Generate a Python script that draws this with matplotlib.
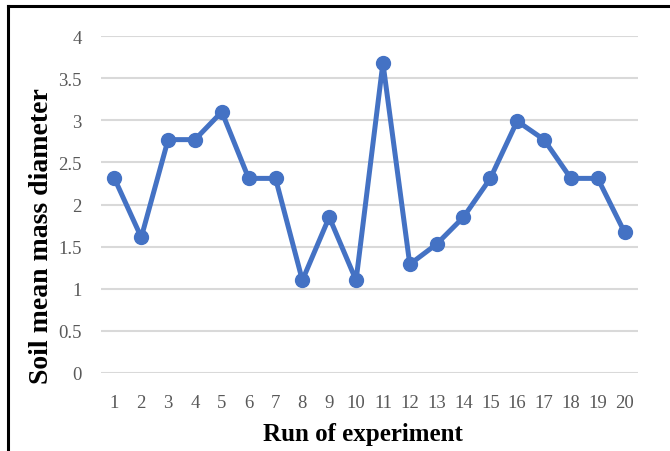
import numpy as np
import matplotlib
matplotlib.use('Agg')
import matplotlib.pyplot as plt
from matplotlib.lines import Line2D

# data
runs = list(range(1, 21))
mmd = [2.31, 1.61, 2.77, 2.77, 3.10, 2.31, 2.31, 1.10, 1.85, 1.10,
       3.68, 1.29, 1.53, 1.85, 2.31, 2.99, 2.77, 2.31, 2.31, 1.67]
y_ticks = [0, 0.5, 1, 1.5, 2, 2.5, 3, 3.5, 4]
y_tick_labels = ['0', '0.5', '1', '1.5', '2', '2.5', '3', '3.5', '4']

W, H = 670, 452
fig = plt.figure(figsize=(W / 100, H / 100), dpi=100)
ax = fig.add_axes([101 / W, 1 - 374 / H, 537 / W, 337 / H])

ax.plot(runs, mmd, color='#4472C4', lw=3.6, marker='o', ms=10,
        solid_joinstyle='round', clip_on=False, zorder=3)

ax.set_xlim(0.5, 20.5)
ax.set_ylim(0, 4)
ax.set_yticks(y_ticks)
ax.set_yticklabels(y_tick_labels)
ax.set_xticks(runs)
ax.set_xticklabels([str(r) for r in runs])

ax.grid(axis='y', color='#D9D9D9', lw=1.5, zorder=0)
ax.set_axisbelow(True)
for s in ax.spines.values():
    s.set_visible(False)
ax.tick_params(length=0, labelsize=13.5, labelcolor='#595959')
ax.tick_params(axis='x', pad=15)
ax.tick_params(axis='y', pad=14)
for lab in ax.get_xticklabels() + ax.get_yticklabels():
    lab.set_family('Liberation Serif')

fig.text(42 / W, 1 - 236 / H, 'Soil mean mass diameter', rotation=90,
         ha='center', va='center', fontsize=20, fontweight='bold',
         family='Liberation Serif')
fig.text(363 / W, 1 - 435 / H, 'Run of experiment', ha='center', va='center',
         fontsize=18, fontweight='bold', family='Liberation Serif')

# frame (only top and left visible in the reference crop)
fig.add_artist(Line2D([8 / W, 1], [1 - 7 / H, 1 - 7 / H], color='black', lw=2.2))
fig.add_artist(Line2D([8 / W, 8 / W], [0, 1 - 7 / H], color='black', lw=2.2))

fig.savefig('out.png', dpi=100)
